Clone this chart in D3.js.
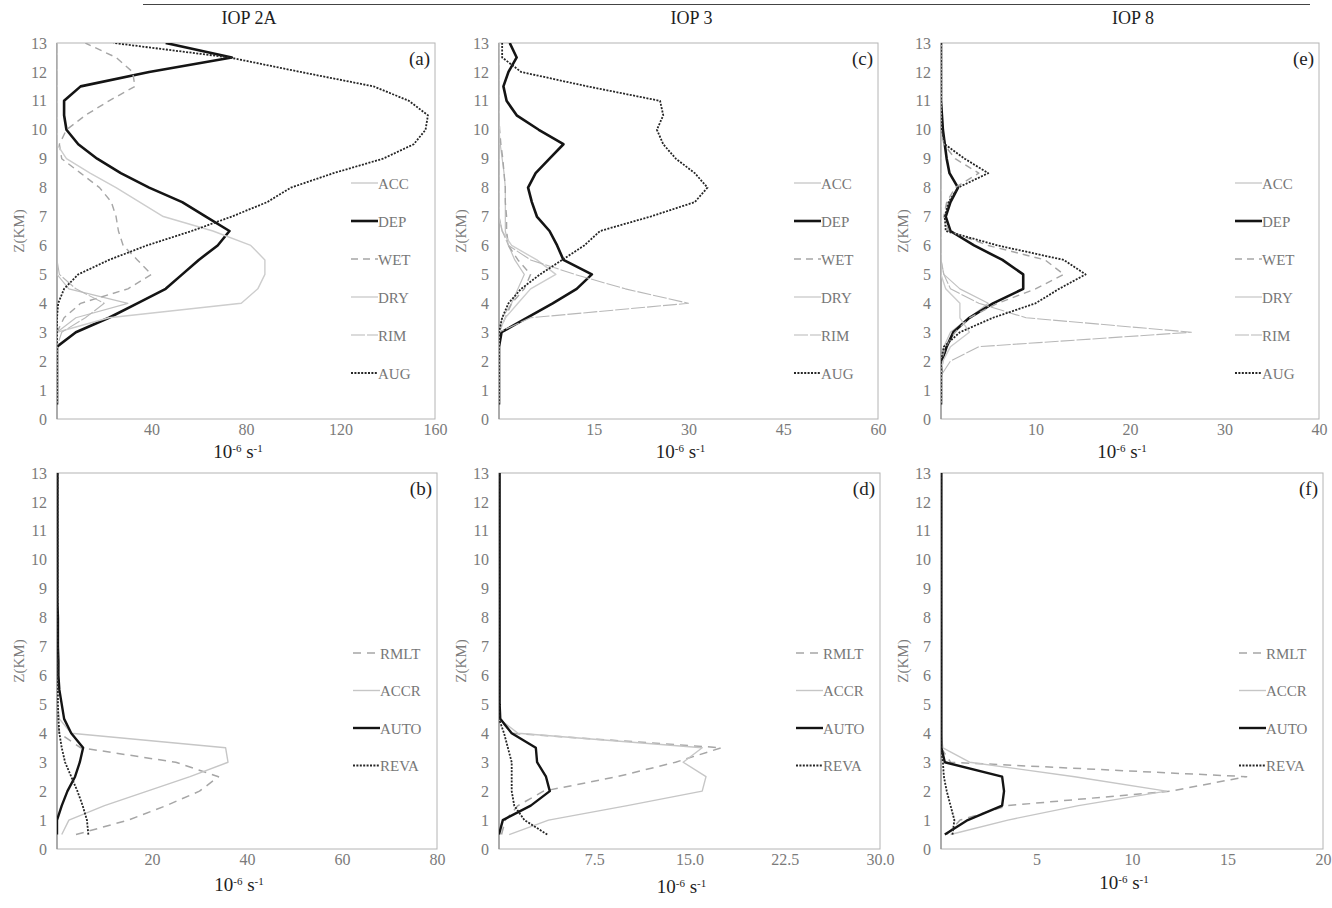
<!DOCTYPE html>
<html>
<head>
<meta charset="utf-8">
<script src="https://cdn.jsdelivr.net/npm/d3@7/dist/d3.min.js"></script>
<style>
  html, body { margin: 0; padding: 0; background: #fff; }
  svg { display: block; }
  text { font-family: "Liberation Serif", "DejaVu Serif", serif; }
</style>
</head>
<body>
<svg id="fig" width="1332" height="908"></svg>
<script>
// Heights of the model levels (km)
const heights = [0.5, 1, 1.5, 2, 2.5, 3, 3.5, 4, 4.5, 5, 5.5, 6, 6.5, 7, 7.5, 8, 8.5, 9, 9.5, 10, 10.5, 11, 11.5, 12, 12.5, 13];
const zTicks = [0, 1, 2, 3, 4, 5, 6, 7, 8, 9, 10, 11, 12, 13];

// Ice-phase conversion rates (10^-6 s^-1), one value per level
const iop2aACC = [0, 0, 0, 0, 0, 0, 8, 30, 5, 0, 0, 0, 0, 0, 0, 0, 0, 0, 0, 0, 0, 0, 0, 0, 0, 0];
const iop2aDEP = [0, 0, 0, 0, 0, 8, 22, 34, 46, 53, 60, 68, 73, 63, 53, 39, 27, 17, 9, 4, 3, 3, 10, 39, 74, 46];
const iop2aWET = [0, 0, 0, 0, 0, 0, 3, 10, 30, 40, 34, 28, 26, 25, 23, 18, 10, 2, 1, 4, 12, 22, 33, 32, 25, 12];
const iop2aDRY = [0, 0, 0, 0, 0, 0, 22, 78, 85, 88, 88, 82, 66, 45, 35, 25, 14, 4, 0, 0, 0, 0, 0, 0, 0, 0];
const iop2aRIM = [0, 0, 0, 0, 0, 2, 12, 20, 8, 1, 0, 0, 0, 0, 0, 0, 0, 0, 0, 0, 0, 0, 0, 0, 0, 0];
const iop2aAUG = [0, 0, 0, 0, 0, 0, 0, 0.5, 3, 9, 22, 38, 57, 74, 89, 99, 117, 138, 151, 156, 157, 149, 134, 103, 73, 24];

const iop3ACC = [0, 0, 0, 0, 0, 0, 0.5, 2, 3, 4, 2.5, 1.5, 1, 1, 1, 1, 0.8, 0.5, 0.2, 0, 0, 0, 0, 0, 0, 0];
const iop3DEP = [0, 0, 0, 0, 0, 0.4, 4.4, 8.5, 12.3, 14.7, 10.2, 9.2, 8, 6, 5.2, 4.6, 5.8, 8, 10.2, 6.3, 2.8, 1.2, 0.7, 1.5, 2.8, 1.7];
const iop3WET = [0, 0, 0, 0, 0, 0, 1, 2, 4, 5, 3, 1.5, 1.2, 1.2, 1, 1, 0.8, 0.6, 0.3, 0.1, 0, 0, 0, 0, 0, 0];
const iop3DRY = [0, 0, 0, 0, 0, 0, 1, 3, 5, 9, 6, 2, 0.5, 0, 0, 0, 0, 0, 0, 0, 0, 0, 0, 0, 0, 0];
const iop3RIM = [0, 0, 0, 0, 0, 0, 5, 30, 20, 12, 5, 1.5, 0.5, 0, 0, 0, 0, 0, 0, 0, 0, 0, 0, 0, 0, 0];
const iop3AUG = [0, 0, 0, 0, 0, 0, 0.5, 1.5, 3.5, 6.5, 10, 13.5, 16, 24, 31, 33, 31, 28, 26, 25, 26, 25.5, 14, 3.5, 0.5, 0.5];

const iop8ACC = [0, 0, 0, 0, 0.3, 1, 3, 5, 2, 0.3, 0, 0, 0, 0, 0, 0, 0, 0, 0, 0, 0, 0, 0, 0, 0, 0];
const iop8DEP = [0, 0, 0, 0.1, 0.6, 1.3, 3, 5.5, 8.7, 8.7, 6.5, 3.5, 1, 0.5, 1, 1.8, 0.9, 0.6, 0.4, 0.2, 0.1, 0, 0, 0, 0, 0];
const iop8WET = [0, 0, 0, 0, 0.5, 1.5, 3, 6, 10, 13, 11, 5, 0.8, 0.3, 0.6, 1.5, 4, 1.5, 0.3, 0, 0, 0, 0, 0, 0, 0];
const iop8DRY = [0, 0, 0, 0.2, 1, 3, 2, 2, 0.5, 0, 0, 0, 0, 0, 0, 0, 0, 0, 0, 0, 0, 0, 0, 0, 0, 0];
const iop8RIM = [0, 0, 0, 1, 4, 26.5, 9, 4, 1, 0.3, 0, 0, 0, 0, 0, 0, 0, 0, 0, 0, 0, 0, 0, 0, 0, 0];
const iop8AUG = [0, 0, 0, 0, 0.3, 2, 5.5, 10, 12.5, 15.3, 13, 6, 0.5, 0.4, 0.8, 1.8, 5, 2.5, 0.4, 0.1, 0, 0, 0, 0, 0, 0];

// Warm-rain conversion rates (10^-6 s^-1)
const iop2aRMLT = [4, 15, 23, 30, 34, 25, 5, 0.5, 0, 0, 0, 0, 0, 0, 0, 0, 0, 0, 0, 0, 0, 0, 0, 0, 0, 0];
const iop2aACCR = [1, 2.5, 10, 19, 28, 36, 35.5, 3, 0.5, 0, 0, 0, 0, 0, 0, 0, 0, 0, 0, 0, 0, 0, 0, 0, 0, 0];
const iop2aAUTO = [0, 0, 1, 2.2, 3.8, 4.8, 5.5, 3, 1.5, 1, 0.5, 0.3, 0.3, 0.2, 0.2, 0.2, 0.1, 0.1, 0.1, 0.1, 0.1, 0.1, 0.1, 0.1, 0.1, 0.1];
const iop2aREVA = [6.6, 6.3, 5.4, 4.3, 3, 1.7, 1, 0.5, 0.3, 0.2, 0.2, 0.2, 0.2, 0.2, 0.1, 0.1, 0.1, 0.1, 0.1, 0.1, 0.1, 0.1, 0.1, 0.1, 0.1, 0.1];

const iop3RMLT = [0.2, 0.5, 1.5, 3.5, 9.3, 13.9, 17.5, 1, 0, 0, 0, 0, 0, 0, 0, 0, 0, 0, 0, 0, 0, 0, 0, 0, 0, 0];
const iop3ACCR = [0.8, 3.9, 10.1, 16, 16.3, 14.5, 16, 1.5, 0, 0, 0, 0, 0, 0, 0, 0, 0, 0, 0, 0, 0, 0, 0, 0, 0, 0];
const iop3AUTO = [0, 0.3, 2.5, 4, 3.7, 3, 2.9, 1, 0.1, 0.05, 0.05, 0.05, 0.05, 0.05, 0.05, 0.05, 0.05, 0.05, 0.05, 0.05, 0.05, 0.05, 0.05, 0.05, 0.05, 0.05];
const iop3REVA = [3.8, 2, 1.2, 1, 1, 1, 0.7, 0.4, 0, 0, 0, 0, 0, 0, 0, 0, 0, 0, 0, 0, 0, 0, 0, 0, 0, 0];

const iop8RMLT = [0.3, 1, 3.5, 12, 16, 0.5, 0, 0, 0, 0, 0, 0, 0, 0, 0, 0, 0, 0, 0, 0, 0, 0, 0, 0, 0, 0];
const iop8ACCR = [0.5, 3.5, 7.2, 11.8, 7, 1.5, 0.1, 0, 0, 0, 0, 0, 0, 0, 0, 0, 0, 0, 0, 0, 0, 0, 0, 0, 0, 0];
const iop8AUTO = [0.2, 1.4, 3.2, 3.3, 3.2, 0.2, 0.02, 0.02, 0.02, 0.02, 0.02, 0.02, 0.02, 0.02, 0.02, 0.02, 0.02, 0.02, 0.02, 0.02, 0.02, 0.02, 0.02, 0.02, 0.02, 0.02];
const iop8REVA = [0.6, 0.7, 0.5, 0.3, 0.15, 0.1, 0, 0, 0, 0, 0, 0, 0, 0, 0, 0, 0, 0, 0, 0, 0, 0, 0, 0, 0, 0];

// Case titles and x-axis tick values
const caseTitles = ["IOP 2A", "IOP 3", "IOP 8"];
const ticksA = [40, 80, 120, 160];
const ticksC = [15, 30, 45, 60];
const ticksE = [10, 20, 30, 40];
const ticksB = [20, 40, 60, 80];
const ticksD = [7.5, 15, 22.5, 30];
const ticksF = [5, 10, 15, 20];

const iceNames = ["ACC", "DEP", "WET", "DRY", "RIM", "AUG"];
const rainNames = ["RMLT", "ACCR", "AUTO", "REVA"];

// Line styling per process
const styles = {
  ACC:  { stroke: "#c2c2c2", width: 1.2, dash: null },
  DEP:  { stroke: "#141414", width: 2.6, dash: null },
  WET:  { stroke: "#a6a6a6", width: 1.4, dash: "7,5" },
  DRY:  { stroke: "#cdcdcd", width: 1.4, dash: null },
  RIM:  { stroke: "#b8b8b8", width: 1.1, dash: "14,2" },
  AUG:  { stroke: "#262626", width: 1.8, dash: "2,1.4" },
  RMLT: { stroke: "#a6a6a6", width: 1.5, dash: "8,6" },
  ACCR: { stroke: "#c6c6c6", width: 1.4, dash: null },
  AUTO: { stroke: "#141414", width: 2.4, dash: null },
  REVA: { stroke: "#262626", width: 1.8, dash: "2,1.4" }
};

const panels = [
  { id: "a", x0: 57,  x1: 435,  y0: 43,  y1: 419, max: 160, ticks: ticksA, fmt: d => String(d), names: iceNames,
    series: [iop2aACC, iop2aDEP, iop2aWET, iop2aDRY, iop2aRIM, iop2aAUG], title: caseTitles[0], legTop: 140, legStep: 38, unitDy: 39 },
  { id: "c", x0: 499, x1: 878,  y0: 43,  y1: 419, max: 60, ticks: ticksC, fmt: d => String(d), names: iceNames,
    series: [iop3ACC, iop3DEP, iop3WET, iop3DRY, iop3RIM, iop3AUG], title: caseTitles[1], legTop: 140, legStep: 38, unitDy: 39 },
  { id: "e", x0: 941, x1: 1319, y0: 43,  y1: 419, max: 40, ticks: ticksE, fmt: d => String(d), names: iceNames,
    series: [iop8ACC, iop8DEP, iop8WET, iop8DRY, iop8RIM, iop8AUG], title: caseTitles[2], legTop: 140, legStep: 38, unitDy: 39 },
  { id: "b", x0: 57,  x1: 437,  y0: 473, y1: 849, max: 80, ticks: ticksB, fmt: d => String(d), names: rainNames,
    series: [iop2aRMLT, iop2aACCR, iop2aAUTO, iop2aREVA], legTop: 180, legStep: 37.5, unitDy: 42 },
  { id: "d", x0: 499, x1: 880,  y0: 473, y1: 849, max: 30, ticks: ticksD, fmt: d3.format(".1f"), names: rainNames,
    series: [iop3RMLT, iop3ACCR, iop3AUTO, iop3REVA], legTop: 180, legStep: 37.5, unitDy: 44 },
  { id: "f", x0: 941, x1: 1323, y0: 473, y1: 849, max: 20, ticks: ticksF, fmt: d => String(d), names: rainNames,
    series: [iop8RMLT, iop8ACCR, iop8AUTO, iop8REVA], legTop: 180, legStep: 37.5, unitDy: 40 }
];

const svg = d3.select("#fig");

// rule across the top of the figure
svg.append("line").attr("x1", 143).attr("x2", 1310).attr("y1", 4.5).attr("y2", 4.5)
  .attr("stroke", "#444").attr("stroke-width", 1);

panels.forEach(p => {
  const x = d3.scaleLinear().domain([0, p.max]).range([p.x0, p.x1]);
  const y = d3.scaleLinear().domain([0, 13]).range([p.y1, p.y0]);
  const g = svg.append("g");

  g.append("clipPath").attr("id", "clip-" + p.id)
    .append("rect").attr("x", p.x0).attr("y", p.y0).attr("width", p.x1 - p.x0).attr("height", p.y1 - p.y0);

  // frame
  g.append("rect").attr("x", p.x0).attr("y", p.y0).attr("width", p.x1 - p.x0).attr("height", p.y1 - p.y0)
    .attr("fill", "#fff").attr("stroke", "#b4b4b4").attr("stroke-width", 1);
  g.append("line").attr("x1", p.x0).attr("x2", p.x0).attr("y1", p.y0).attr("y2", p.y1)
    .attr("stroke", "#8c8c8c").attr("stroke-width", 1.2);

  // y axis (height)
  const yAxis = d3.axisLeft(y).tickValues(zTicks).tickSize(0).tickPadding(10).tickFormat(d3.format("d"));
  const ya = g.append("g").attr("transform", `translate(${p.x0},0)`).call(yAxis);
  ya.select(".domain").remove();
  ya.selectAll("text").attr("font-size", 16).attr("fill", "#7a7a7a");

  // x axis (rate)
  const xAxis = d3.axisBottom(x).tickValues(p.ticks).tickSize(0).tickPadding(5).tickFormat(p.fmt);
  const xa = g.append("g").attr("transform", `translate(0,${p.y1})`).call(xAxis);
  xa.select(".domain").remove();
  xa.selectAll("text").attr("font-size", 16).attr("fill", "#7a7a7a");

  // height label
  g.append("text")
    .attr("transform", `translate(${p.x0 - 33},${(p.y0 + p.y1) / 2}) rotate(-90)`)
    .attr("text-anchor", "middle").attr("font-size", 15).attr("fill", "#7a7a7a")
    .text("Z(KM)");

  // units label
  const ux = (p.x0 + p.x1) / 2 - 8;
  const uy = p.y1 + p.unitDy;
  const ut = g.append("text").attr("x", ux).attr("y", uy).attr("text-anchor", "middle")
    .attr("font-size", 19).attr("fill", "#1e1e1e");
  ut.append("tspan").text("10");
  ut.append("tspan").attr("dy", -6).attr("font-size", 11).text("-6");
  ut.append("tspan").attr("dy", 6).text(" s");
  ut.append("tspan").attr("dy", -6).attr("font-size", 11).text("-1");

  // panel letter
  g.append("text").attr("x", p.x1 - 5).attr("y", p.y0 + 22).attr("text-anchor", "end")
    .attr("font-size", 19).attr("fill", "#1e1e1e").text(`(${p.id})`);

  // case title
  if (p.title) {
    g.append("text").attr("x", (p.x0 + p.x1) / 2 + 3).attr("y", 24).attr("text-anchor", "middle")
      .attr("font-size", 18).attr("fill", "#1e1e1e").text(p.title);
  }

  // profiles
  const line = d3.line().x(d => x(d[0])).y(d => y(d[1])).curve(d3.curveLinear);
  const lines = g.append("g").attr("clip-path", `url(#clip-${p.id})`);
  p.names.forEach((name, i) => {
    const s = styles[name];
    const pts = p.series[i].map((v, k) => [v, heights[k]]);
    lines.append("path").datum(pts).attr("d", line)
      .attr("fill", "none").attr("stroke", s.stroke).attr("stroke-width", s.width)
      .attr("stroke-dasharray", s.dash).attr("stroke-linejoin", "round");
  });

  // legend
  const lg = g.append("g");
  p.names.forEach((name, i) => {
    const s = styles[name];
    const ly = p.y0 + p.legTop + i * p.legStep;
    lg.append("line").attr("x1", p.x1 - 84).attr("x2", p.x1 - 57).attr("y1", ly).attr("y2", ly)
      .attr("stroke", s.stroke).attr("stroke-width", s.width).attr("stroke-dasharray", s.dash);
    lg.append("text").attr("x", p.x1 - 57).attr("y", ly + 5.5).attr("font-size", 15)
      .attr("fill", "#777").text(name);
  });
});
</script>
</body>
</html>
